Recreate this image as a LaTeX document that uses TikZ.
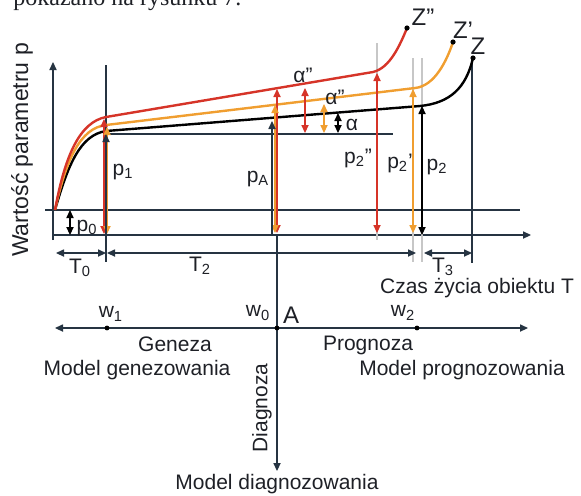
\documentclass[tikz,border=0pt]{standalone}
\usepackage{fontspec}
\setmainfont{Liberation Sans}
\newfontfamily\seriffont{Liberation Serif}
\usetikzlibrary{arrows.meta}
\definecolor{osie}{RGB}{38,52,66}
\definecolor{czerw}{RGB}{214,52,40}
\definecolor{pomar}{RGB}{240,158,48}
\definecolor{tekst}{RGB}{30,32,38}
\tikzset{
  ln/.style={osie, line width=0.55pt},
  crv/.style={line width=1.2pt},
  tip/.style={-{Triangle[length=4pt,width=3.6pt]}},
  dtip/.style={{Triangle[length=4pt,width=3.6pt]}-{Triangle[length=4pt,width=3.6pt]}},
  lab/.style={font=\fontsize{10.5}{12}\selectfont, text=tekst, inner sep=1pt},
  dot/.style={circle, fill=black, inner sep=0pt, minimum size=2.6pt},
}

\begin{document}
\begin{tikzpicture}[x=0.5pt,y=-0.5pt]
    \clip (0,0) rectangle (581,495);

    %%% tekst nad rysunkiem %%%
    \node[anchor=base west, inner sep=0pt, font=\seriffont\fontsize{12}{14}\selectfont, text=tekst] (txt) at (13,5) {pokazano na rysunku 7.};

    %%% osie %%%
    \coordinate (O) at (53,240);     \coordinate (Y) at (53,62);
    \coordinate (P0a) at (45,210);   \coordinate (P0b) at (520,210);
    \coordinate (T0) at (53,235);    \coordinate (T) at (531,235);
    \draw[ln,tip] (O)--(Y);
    \draw[ln] (P0a)--(P0b);
    \draw[ln,tip] (T0)--(T);
    \draw[ln] (106,65)--(106,262);   \draw[ln] (106,134)--(393,134);
    \draw[ln] (472,58)--(472,263);
    \draw[ln,black!22] (377,43)--(377,240);
    \draw[ln,black!22] (413,58)--(413,262);
    \draw[ln,black!22] (422,58)--(422,262);

    %%% krzywe %%%
    \draw[crv,black] (55,210) .. controls (68,165) and (80,135) .. (106,131) -- (420,106)
        .. controls (450,103) and (466,88) .. (473,58) coordinate (Z);
    \draw[crv,pomar] (55,210) .. controls (66,160) and (80,128) .. (106,125) -- (415,88)
        .. controls (435,86) and (447,60) .. (453,42) coordinate (Z1);
    \draw[crv,czerw] (55,210) .. controls (65,155) and (80,122) .. (106,117) -- (373,72)
        .. controls (390,68) and (400,45) .. (407,28) coordinate (Z2);
    \node[dot] (z) at (Z) {};    \node[lab, font=\fontsize{12}{14}\selectfont] (zl) at (478,46) {Z};
    \node[dot] (z1) at (Z1) {};  \node[lab, font=\fontsize{12}{14}\selectfont] (z1l) at (463,30) {Z'};
    \node[dot] (z2) at (Z2) {};  \node[lab, font=\fontsize{12}{14}\selectfont] (z2l) at (423,17) {Z''};

    %%% p1 %%%
    \draw[ln,czerw,dtip] (104,119)--(104,234);
    \draw[ln,pomar,dtip] (107,127)--(107,234);
    \draw[ln,tip] (106,235)--(106,134);
    \node[lab] (p1) at (123,172) {p\textsubscript{1}};

    %%% pA %%%
    \draw[ln,czerw,dtip] (277,89)--(277,233);
    \draw[ln,pomar,dtip] (275,105)--(275,233);
    \draw[ln,tip] (272,235)--(272,121);
    \node[lab] (pA) at (258,179) {p\textsubscript{A}};

    %%% p2 %%%
    \draw[ln,czerw,dtip] (377,73)--(377,233);
    \draw[ln,pomar,dtip] (413,89)--(413,233);
    \draw[ln,black,dtip] (422,106)--(422,235);
    \node[lab] (p2b) at (358,158) {p\textsubscript{2}''};
    \node[lab] (p2a) at (400,163) {p\textsubscript{2}'};
    \node[lab] (p2) at (437,167) {p\textsubscript{2}};

    %%% kat alfa %%%
    \draw[ln,czerw,dtip] (305,88)--(305,133);
    \draw[ln,pomar,dtip] (324,104)--(324,133);
    \draw[ln,black,dtip] (338,113)--(338,133);
    \node[lab] (a2) at (303,75) {α''};
    \node[lab] (a1) at (335,97) {α''};
    \node[lab] (a0) at (352,125) {α};

    %%% p0 %%%
    \draw[ln,black,dtip] (70,210)--(70,235);
    \node[lab] (p0) at (87,228) {p\textsubscript{0}};
    \node[lab, rotate=90, font=\fontsize{11.5}{13}\selectfont] (yl) at (22,150) {Wartość parametru p};

    %%% przedzialy czasu %%%
    \draw[ln,dtip] (56,253)--(106,253);
    \draw[ln,dtip] (107,253)--(416,253);
    \draw[ln,dtip] (424,253)--(472,253);
    \node[lab] (t0) at (80,268) {T\textsubscript{0}};
    \node[lab] (t2) at (200,266) {T\textsubscript{2}};
    \node[lab] (t3) at (443,267) {T\textsubscript{3}};
    \node[lab] (cz) at (477,288) {Czas życia obiektu T};

    %%% os modeli %%%
    \coordinate (L) at (55,328);     \coordinate (R) at (528,328);
    \coordinate (A) at (277,328);    \coordinate (D) at (277,471);
    \draw[ln,tip] (A)--(L);          \draw[ln,tip] (A)--(R);
    \draw[ln] (277,235)--(A);        \draw[ln,tip] (A)--(D);
    \node[dot, minimum size=2.4pt] (w1) at (107,328) {};
    \node[dot, minimum size=2.4pt] (a) at (A) {};
    \node[dot, minimum size=2.4pt] (w2) at (417,328) {};
    \node[lab] (w1l) at (111,314) {w\textsubscript{1}};
    \node[lab] (w0l) at (258,313) {w\textsubscript{0}};
    \node[lab, font=\fontsize{12}{14}\selectfont] (al) at (291,315) {A};
    \node[lab] (w2l) at (403,313) {w\textsubscript{2}};
    \node[lab] (gen) at (175,344) {Geneza};
    \node[lab] (mgen) at (137,370) {Model genezowania};
    \node[lab] (prog) at (368,345) {Prognoza};
    \node[lab] (mprog) at (462,370) {Model prognozowania};
    \node[lab, rotate=90] (diag) at (262,408) {Diagnoza};
    \node[lab] (mdiag) at (277,484) {Model diagnozowania};

\end{tikzpicture}
\end{document}
